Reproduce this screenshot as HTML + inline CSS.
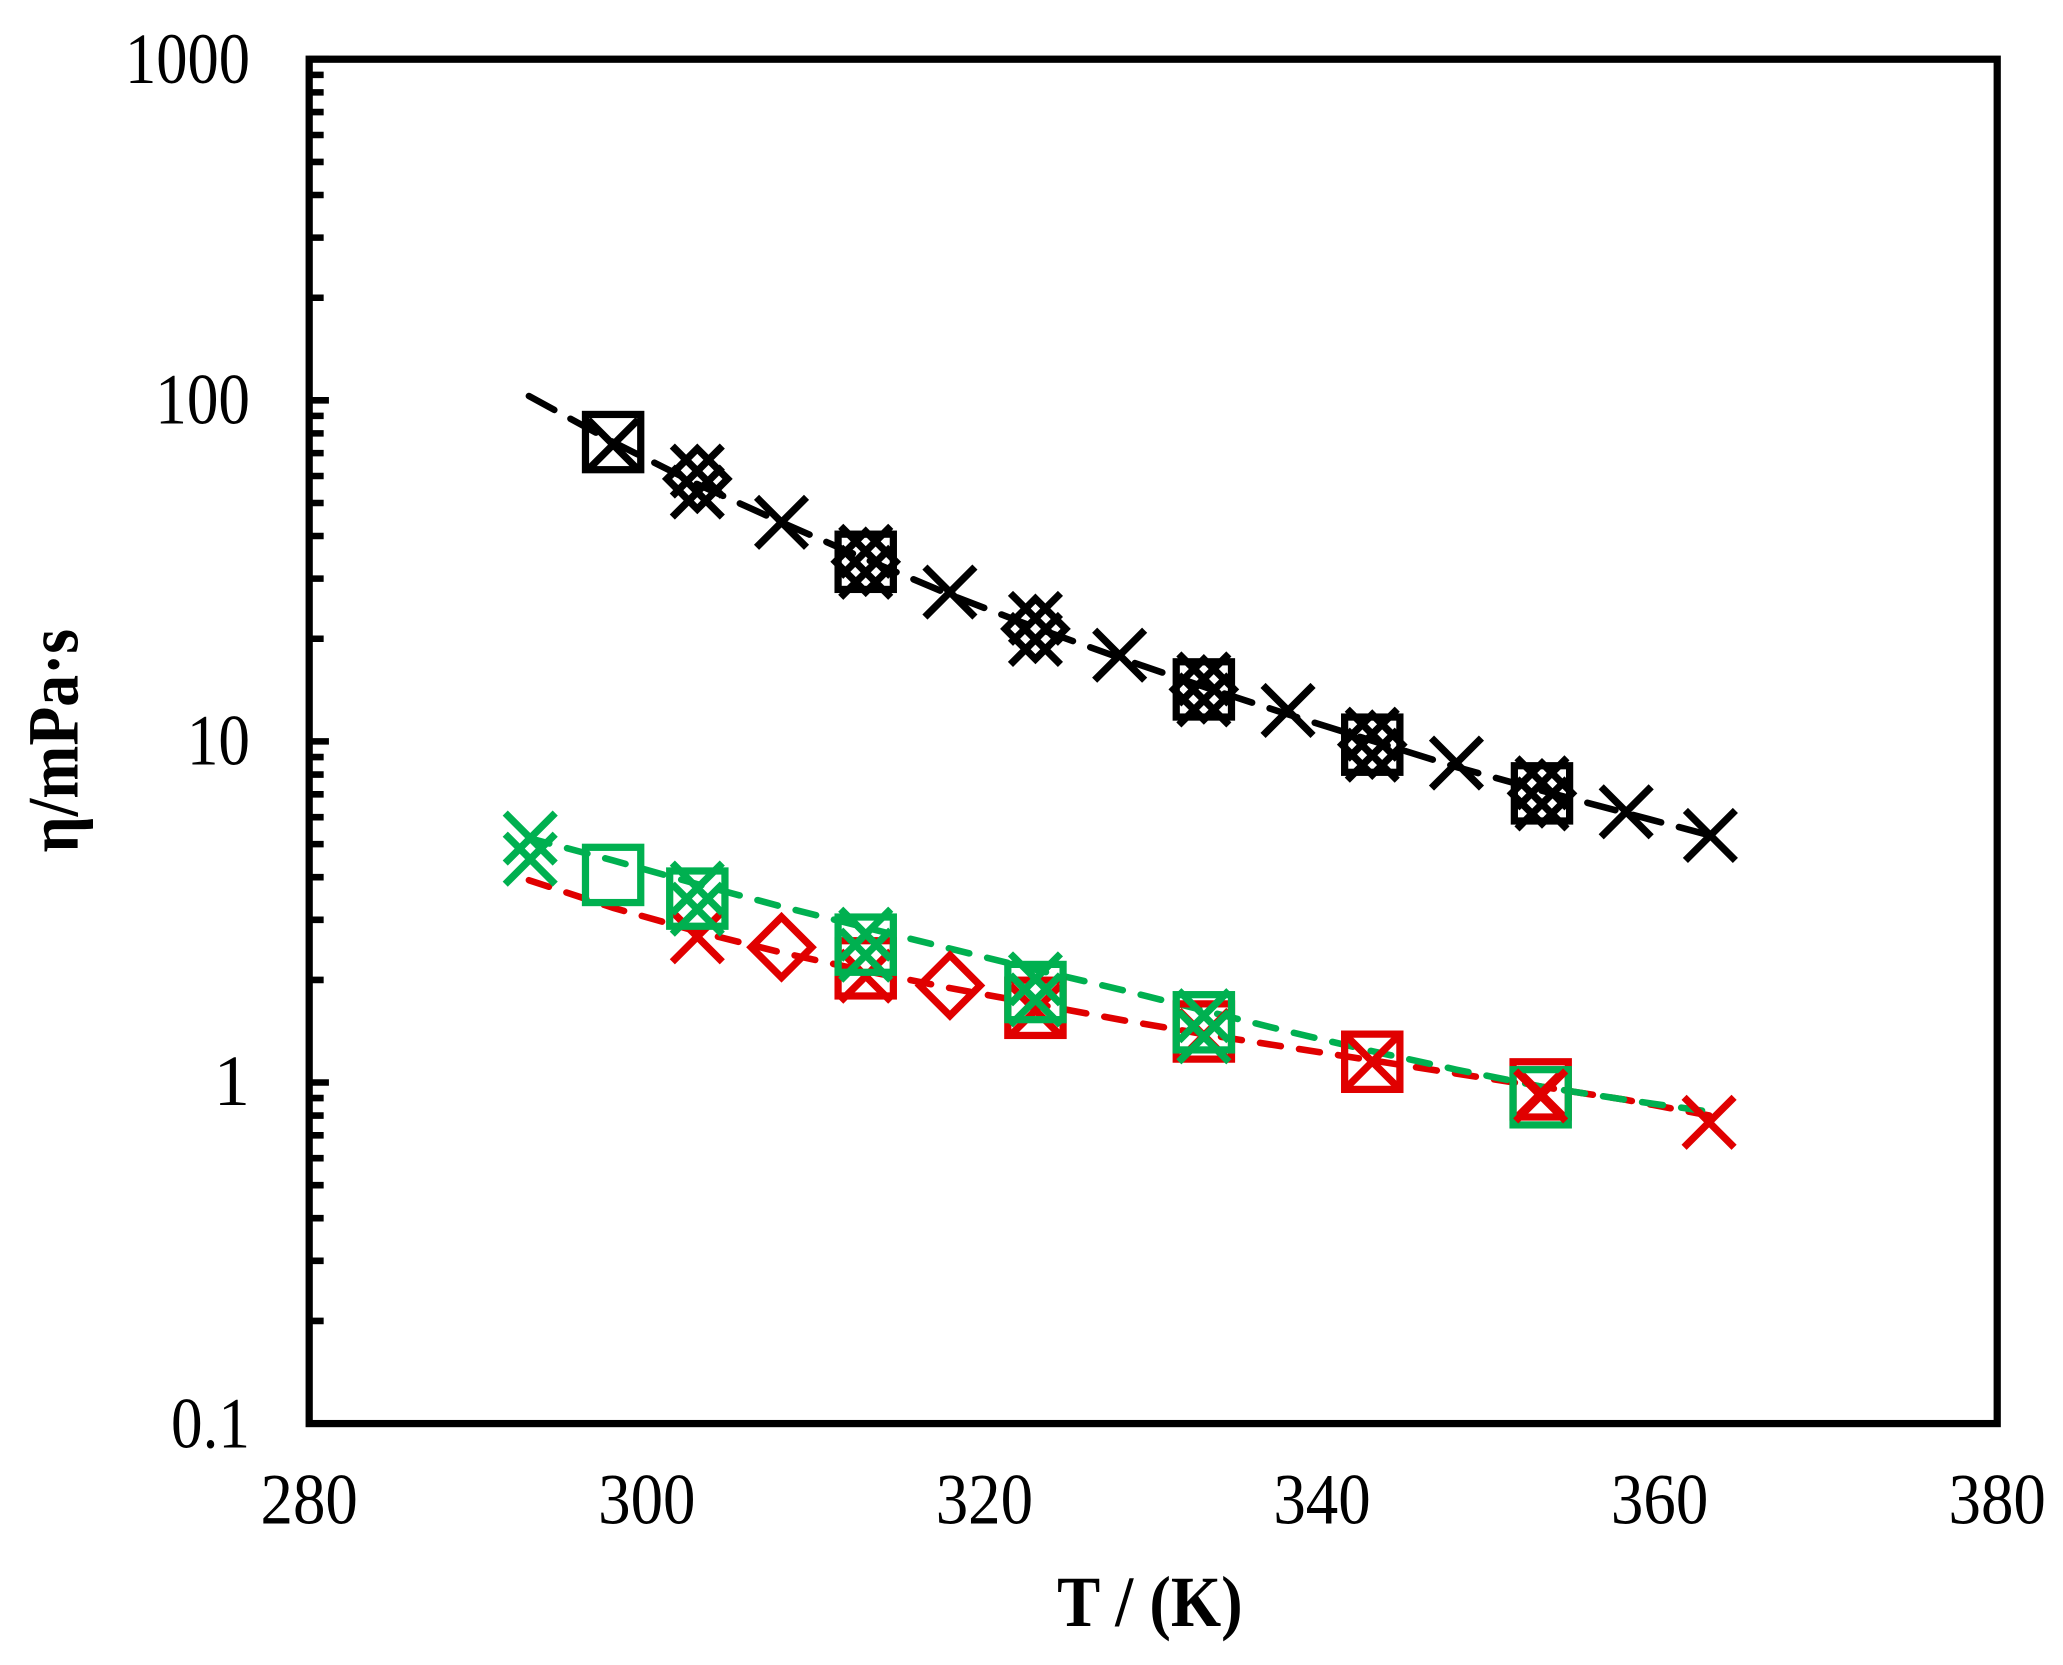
<!DOCTYPE html>
<html><head><meta charset="utf-8"><style>html,body{margin:0;padding:0;background:#fff}svg{display:block}text{font-family:"Liberation Serif","Times New Roman",serif}</style></head>
<body>
<svg width="2063" height="1665" viewBox="0 0 1568 1265.5" xmlns="http://www.w3.org/2000/svg">
<defs>
<g id="sq"><rect x="-21" y="-21" width="42" height="42" fill="none" stroke-width="5.5"/></g>
<g id="xx"><path d="M-19,-19L19,19M-19,19L19,-19" fill="none" stroke-width="5.5"/></g>
<g id="dm"><path d="M0,-23L23,0L0,23L-23,0Z" fill="none" stroke-width="5.5"/></g>
<g id="hx"><path d="M-19,-27L19,11M-19,11L19,-27M-19,-11L19,27M-19,27L19,-11" fill="none" stroke-width="5.5"/></g>
</defs>
<rect width="1568" height="1265.5" fill="#fff"/>
<rect x="235" y="45" width="1283" height="1037" fill="none" stroke="#000" stroke-width="5.5"/>
<g stroke="#000" stroke-width="5">
<path d="M235,45h15M235,304.25h15M235,563.5h15M235,822.75h15"/>
<path d="M235,56.9h11M235,70.2h11M235,85.2h11M235,102.6h11M235,123.1h11M235,148.2h11M235,180.6h11M235,226.3h11
M235,316.1h11M235,329.4h11M235,344.4h11M235,361.8h11M235,382.3h11M235,407.4h11M235,439.8h11M235,485.5h11
M235,575.4h11M235,588.7h11M235,603.7h11M235,621.1h11M235,641.6h11M235,666.7h11M235,699.1h11M235,744.8h11
M235,834.6h11M235,847.9h11M235,862.9h11M235,880.3h11M235,900.8h11M235,925.9h11M235,958.3h11M235,1004h11"/>
</g>
<g font-size="55" text-anchor="end" fill="#000">
<text x="190" y="63" textLength="95" lengthAdjust="spacingAndGlyphs">1000</text>
<text x="190" y="322" textLength="72" lengthAdjust="spacingAndGlyphs">100</text>
<text x="190" y="581" textLength="48" lengthAdjust="spacingAndGlyphs">10</text>
<text x="190" y="840">1</text>
<text x="190" y="1100" textLength="60" lengthAdjust="spacingAndGlyphs">0.1</text>
</g>
<g font-size="55" text-anchor="middle" fill="#000">
<text x="235" y="1158" textLength="74" lengthAdjust="spacingAndGlyphs">280</text>
<text x="491.6" y="1158" textLength="74" lengthAdjust="spacingAndGlyphs">300</text>
<text x="748.2" y="1158" textLength="74" lengthAdjust="spacingAndGlyphs">320</text>
<text x="1004.8" y="1158" textLength="74" lengthAdjust="spacingAndGlyphs">340</text>
<text x="1261.4" y="1158" textLength="74" lengthAdjust="spacingAndGlyphs">360</text>
<text x="1518" y="1158" textLength="74" lengthAdjust="spacingAndGlyphs">380</text>
</g>
<text x="874" y="1236" font-size="55" font-weight="bold" text-anchor="middle" textLength="141" lengthAdjust="spacingAndGlyphs">T / (K)</text>
<text transform="translate(59,563) rotate(-90)" font-size="55" font-weight="bold" text-anchor="middle" textLength="170" lengthAdjust="spacingAndGlyphs">η/mPa·s</text>

<polyline fill="none" stroke="#000" stroke-width="5" stroke-dasharray="22,14" stroke-linecap="round" points="402,301 466,336 530,368 594,397 658,425 722,452 787,477 851,500 915,522 979,543 1043,563 1107,583 1172,601 1236,618 1300,635"/>
<polyline fill="none" stroke="#e00000" stroke-width="5" stroke-dasharray="16,14" stroke-linecap="round" points="402,669 466,690 530,708 594,724 658,738 722,751 787,763 851,775 915,786 979,796 1043,806 1107,816 1172,826 1236,836 1300,848"/>
<polyline fill="none" stroke="#00b050" stroke-width="5" stroke-dasharray="16,14" stroke-linecap="round" points="402,637 466,654 530,672 594,689 658,705 722,721 787,737 851,752 915,768 979,784 1043,799 1107,813 1172,826 1236,836 1300,845"/>

<g stroke="#000">
<use href="#xx" x="466" y="338"/><use href="#sq" x="466" y="336"/>
<use href="#hx" x="530" y="366"/><use href="#dm" x="530" y="364"/>
<use href="#xx" x="594" y="397"/>
<use href="#sq" x="658" y="427"/><use href="#dm" x="658" y="427"/><use href="#hx" x="658" y="427"/>
<use href="#xx" x="722" y="450"/>
<use href="#dm" x="787" y="478"/><use href="#hx" x="787" y="478"/>
<use href="#xx" x="851" y="498"/>
<use href="#sq" x="915" y="524"/><use href="#dm" x="915" y="524"/><use href="#hx" x="915" y="524"/>
<use href="#xx" x="979" y="540"/>
<use href="#sq" x="1043" y="566"/><use href="#dm" x="1043" y="566"/><use href="#hx" x="1043" y="566"/>
<use href="#xx" x="1107" y="580"/>
<use href="#sq" x="1172" y="603"/><use href="#dm" x="1172" y="603"/><use href="#hx" x="1172" y="603"/>
<use href="#xx" x="1236" y="617"/>
<use href="#xx" x="1300" y="635"/>
</g>
<g stroke="#e00000">
<use href="#xx" x="530" y="712"/>
<use href="#dm" x="594" y="720"/>
<use href="#xx" x="658" y="742"/><use href="#sq" x="658" y="736"/>
<use href="#dm" x="722" y="749"/>
<use href="#xx" x="787" y="768"/><use href="#sq" x="787" y="766"/>
<use href="#xx" x="915" y="787"/><use href="#sq" x="915" y="784"/>
<use href="#sq" x="1043" y="807"/><use href="#xx" x="1043" y="807"/>
<use href="#sq" x="1171" y="828"/><use href="#xx" x="1171" y="831"/>
<use href="#xx" x="1299" y="853"/>
</g>
<g stroke="#00b050">
<use href="#hx" x="403" y="645"/>
<use href="#sq" x="466" y="665"/>
<use href="#sq" x="530" y="683"/><use href="#hx" x="530" y="683"/>
<use href="#sq" x="658" y="718"/><use href="#hx" x="658" y="718"/>
<use href="#sq" x="787" y="754"/><use href="#hx" x="787" y="752"/>
<use href="#sq" x="915" y="777"/><use href="#hx" x="915" y="780"/>
<use href="#sq" x="1171" y="834"/>
</g>
<g stroke="#e00000"><use href="#xx" x="1171" y="833"/></g>
</svg>
</body></html>
